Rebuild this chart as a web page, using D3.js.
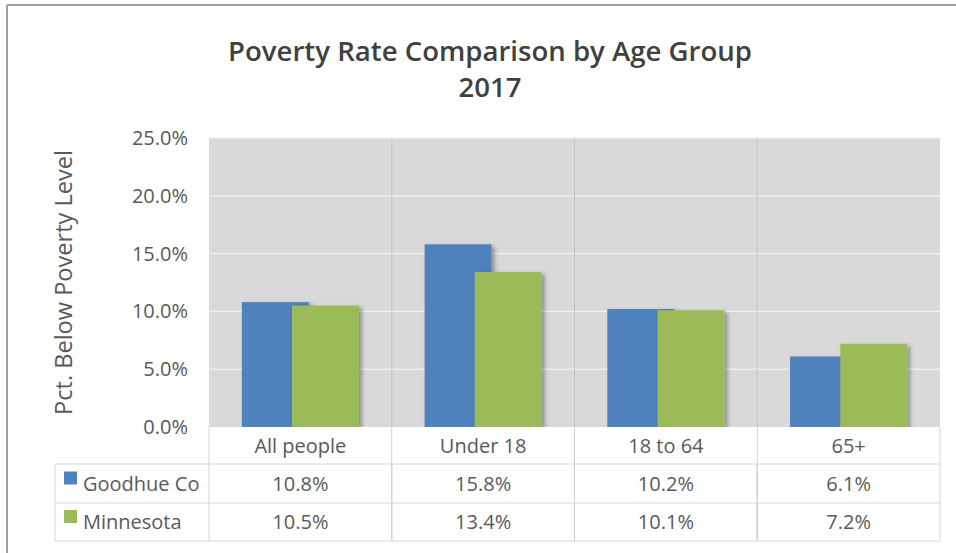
<!DOCTYPE html>
<html><head><meta charset="utf-8">
<script src="https://cdn.jsdelivr.net/npm/d3@7"></script>
<style>body{margin:0;background:#fff}svg{display:block}text{font-family:"Open Sans",sans-serif}</style>
</head><body><svg id="c" width="956" height="553"></svg>
<script>
const categories = ["All people", "Under 18", "18 to 64", "65+"];
const seriesNames = ["Goodhue Co", "Minnesota"];
const goodhue = [10.8, 15.8, 10.2, 6.1];
const minnesota = [10.5, 13.4, 10.1, 7.2];
const yTicks = [0, 5, 10, 15, 20, 25];
const titleLines = ["Poverty Rate Comparison by Age Group", "2017"];
const yAxisTitle = "Pct. Below Poverty Level";

const colors = ["#4f81bd", "#9bbb59"];
const series = [goodhue, minnesota];
const svg = d3.select("#c");
const L = 209, R = 940, T = 138, B = 427;
const tableL = 55, catRowB = 464, row1B = 503, row2B = 541;

const defs = svg.append("defs");
const f = defs.append("filter").attr("id","sh").attr("x","-20%").attr("y","-20%").attr("width","150%").attr("height","150%");
f.append("feDropShadow").attr("dx",3).attr("dy",2).attr("stdDeviation",2).attr("flood-color","#000").attr("flood-opacity",0.35);

// outer border
svg.append("line").attr("x1",7).attr("x2",956).attr("y1",5).attr("y2",5).attr("stroke","#a0a0a0").attr("stroke-width",2);
svg.append("line").attr("x1",7).attr("x2",7).attr("y1",5).attr("y2",553).attr("stroke","#a0a0a0").attr("stroke-width",2);

// title
const tt = svg.append("text").attr("text-anchor","middle").attr("fill","#404040").attr("font-weight",600);
tt.append("tspan").attr("x",490).attr("y",61).text(titleLines[0]);
tt.append("tspan").attr("x",490).attr("y",97).text(titleLines[1]);
tt.attr("font-size",26);
const w0 = tt.select("tspan").node().getComputedTextLength();
tt.attr("font-size", 26*524/w0);

const x0 = d3.scaleBand().domain(categories).range([L, R]).padding(0);
const y = d3.scaleLinear().domain([0, 25]).range([B, T]);

// plot background
svg.append("rect").attr("x",L).attr("y",T).attr("width",R-L).attr("height",B-T).attr("fill","#d9d9d9");
// horizontal gridlines
svg.append("g").selectAll("line").data(yTicks.slice(1)).join("line")
  .attr("x1",L).attr("x2",R).attr("y1",d=>y(d)).attr("y2",d=>y(d)).attr("stroke","#f2f2f2").attr("stroke-width",1.2);
// vertical category separators
const seps = categories.slice(1).map(c=>x0(c));
svg.append("g").selectAll("line").data(seps).join("line")
  .attr("x1",d=>d).attr("x2",d=>d).attr("y1",T).attr("y2",row2B).attr("stroke","#c4c4c4");

// y axis
const yAxis = d3.axisLeft(y).tickValues(yTicks).tickFormat(d=>d.toFixed(1)+"%").tickSize(0).tickPadding(0);
const ga = svg.append("g").attr("transform",`translate(188,0)`).call(yAxis);
ga.select(".domain").remove();
ga.selectAll("text").attr("font-size",20).attr("fill","#595959").attr("font-family","'Open Sans',sans-serif");

const yt = svg.append("text").attr("transform",`translate(72,${(150+415)/2}) rotate(-90)`).attr("text-anchor","middle")
  .attr("font-size",20).attr("fill","#595959").text(yAxisTitle);
const w1 = yt.node().getComputedTextLength();
yt.attr("font-size", 20*265/w1);

// bars
const bw = x0.bandwidth()*0.366, step = bw*0.75;
categories.forEach((c,ci)=>{
  const cx = x0(c) + x0.bandwidth()/2;
  series.forEach((s,si)=>{
    const xl = cx - (bw+step)/2 + si*step;
    svg.append("rect").attr("x",xl).attr("y",y(s[ci])).attr("width",bw).attr("height",y(0)-y(s[ci]))
      .attr("fill",colors[si]).attr("filter","url(#sh)");
  });
});
// cover shadow below plot
svg.append("rect").attr("x",L).attr("y",B).attr("width",R-L+8).attr("height",catRowB-B).attr("fill","#fff");
svg.append("g").selectAll("line").data(seps).join("line")
  .attr("x1",d=>d).attr("x2",d=>d).attr("y1",B).attr("y2",row2B).attr("stroke","#d0d0d0");

// table lines
const tl = svg.append("g").attr("stroke","#d6d6d6").attr("fill","none");
[catRowB,row1B,row2B].forEach(yy=>tl.append("line").attr("x1",tableL).attr("x2",R).attr("y1",yy).attr("y2",yy));
tl.append("line").attr("x1",tableL).attr("x2",tableL).attr("y1",catRowB).attr("y2",row2B);
tl.append("line").attr("x1",L).attr("x2",L).attr("y1",B).attr("y2",row2B);
tl.append("line").attr("x1",R).attr("x2",R).attr("y1",B).attr("y2",row2B);

// category labels
svg.append("g").selectAll("text").data(categories).join("text")
  .attr("x",d=>x0(d)+x0.bandwidth()/2).attr("y",453).attr("text-anchor","middle")
  .attr("font-size",20).attr("fill","#595959").text(d=>d);

// table rows
const rowsY = [(catRowB+row1B)/2+7, (row1B+row2B)/2+7];
series.forEach((s,si)=>{
  svg.append("rect").attr("x",64).attr("y",rowsY[si]-19).attr("width",13).attr("height",13).attr("fill",colors[si]);
  svg.append("text").attr("x",83).attr("y",rowsY[si]).attr("font-size",20).attr("fill","#595959").text(seriesNames[si]);
  svg.append("g").selectAll("text").data(s).join("text")
    .attr("x",(d,i)=>x0(categories[i])+x0.bandwidth()/2).attr("y",rowsY[si]).attr("text-anchor","middle")
    .attr("font-size",20).attr("fill","#595959").text(d=>d.toFixed(1)+"%");
});
</script></body></html>
